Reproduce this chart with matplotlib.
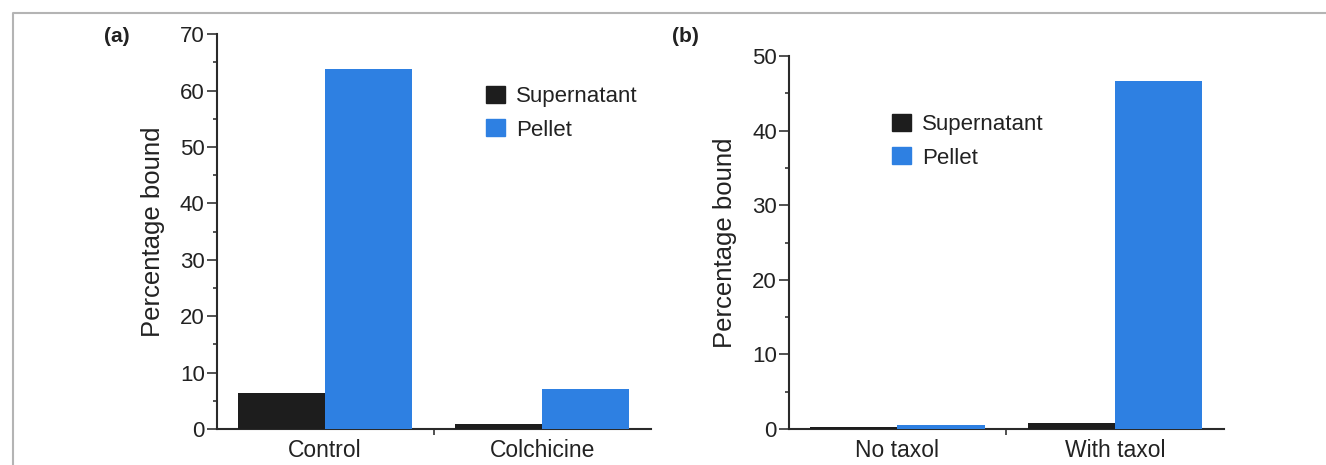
import matplotlib
matplotlib.use("Agg")
import matplotlib.pyplot as plt
from matplotlib.lines import Line2D
from matplotlib.patches import Patch
from matplotlib.ticker import MultipleLocator

# data
cats_a = ["Control", "Colchicine"]
sup_a = [6.4, 0.8]
pel_a = [63.8, 7.1]

cats_b = ["No taxol", "With taxol"]
sup_b = [0.3, 0.85]
pel_b = [0.6, 46.6]

series_names = ["Supernatant", "Pellet"]
BLACK = "#1d1d1d"
BLUE = "#2e80e2"
INK = "#222222"

plt.rcParams["font.family"] = ["Liberation Sans", "DejaVu Sans"]
plt.rcParams["text.color"] = INK
plt.rcParams["axes.labelcolor"] = INK
plt.rcParams["xtick.color"] = INK
plt.rcParams["ytick.color"] = INK

W, H = 1326, 465
fig = plt.figure(figsize=(W / 100, H / 100), dpi=100)

# grey frame line (top and left)
fig.add_artist(Line2D([12.5 / W, 12.5 / W, 1], [0, 1 - 13.5 / H, 1 - 13.5 / H],
                      transform=fig.transFigure, color="#b4b4b4", lw=1.5))


def draw_panel(ax, cats, sup, pel, ymax, legend_xy, tag, tag_xy):
    w = 0.4
    xs = list(range(len(cats)))
    # bars drawn over the baseline, like the printed figure
    ax.bar([x - w / 2 for x in xs], sup, w, color=BLACK, zorder=3)
    ax.bar([x + w / 2 for x in xs], pel, w, color=BLUE, zorder=3)

    ax.set_xlim(-0.5, len(cats) - 0.5)
    ax.set_ylim(0, ymax)
    for s in ["top", "right"]:
        ax.spines[s].set_visible(False)
    for s in ["left", "bottom"]:
        ax.spines[s].set_linewidth(1.5)
        ax.spines[s].set_color("#2a2a2a")

    ax.yaxis.set_major_locator(MultipleLocator(10))
    ax.yaxis.set_minor_locator(MultipleLocator(5))
    ax.tick_params(axis="y", which="major", length=7, width=1.1, pad=1.5, labelsize=16)
    ax.tick_params(axis="y", which="minor", length=3, width=1.1)

    # separator tick between groups, names as label-only minor ticks
    ax.set_xticks([0.5], [""])
    ax.set_xticks(xs, cats, minor=True)
    ax.tick_params(axis="x", which="major", length=4, width=1.1, direction="out")
    ax.tick_params(axis="x", which="minor", length=0, pad=7, labelsize=16.5)

    ax.set_ylabel("Percentage bound", fontsize=18.5, labelpad=11)

    handles = [Patch(color=BLACK), Patch(color=BLUE)]
    ax.legend(handles, series_names, loc="upper left",
              bbox_to_anchor=(legend_xy[0] / W, 1 - legend_xy[1] / H),
              bbox_transform=fig.transFigure, frameon=False, fontsize=16,
              handlelength=0.85, handleheight=0.8, handletextpad=0.5,
              labelspacing=0.55, borderpad=0, borderaxespad=0)

    fig.text(tag_xy[0] / W, 1 - tag_xy[1] / H, tag, ha="center", va="center",
             fontweight="bold", fontsize=15)


ax_a = fig.add_axes([216.5 / W, 36 / H, 434.5 / W, 394.7 / H])
draw_panel(ax_a, cats_a, sup_a, pel_a, 70, (486, 86), "(a)", (117, 37))

ax_b = fig.add_axes([788.6 / W, 36 / H, 435.4 / W, 373 / H])
draw_panel(ax_b, cats_b, sup_b, pel_b, 50, (892, 114), "(b)", (685.5, 37))

fig.savefig("out.png", dpi=100)
